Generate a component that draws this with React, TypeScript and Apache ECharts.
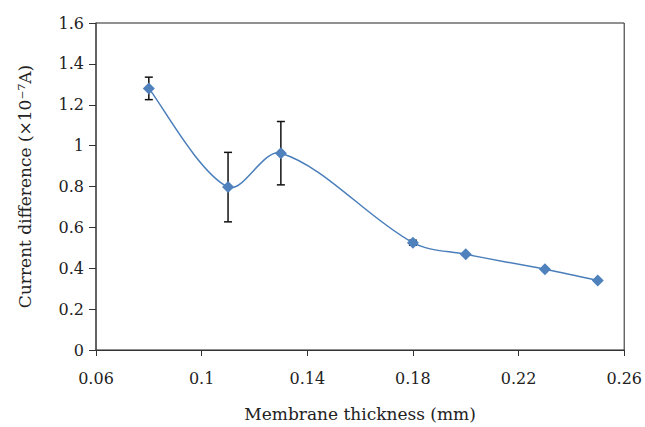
import React, { useEffect, useRef } from "react";
import * as echarts from "echarts";

const xValues = [0.08, 0.11, 0.13, 0.18, 0.2, 0.23, 0.25];
const yValues = [1.28, 0.797, 0.963, 0.525, 0.468, 0.395, 0.34];
const errValues = [0.055, 0.17, 0.155, 0.012, 0, 0, 0];
const xTicks = [0.06, 0.1, 0.14, 0.18, 0.22, 0.26];

const FONT = "DejaVu Serif";

export default function App() {
  const ref = useRef<HTMLDivElement>(null);
  useEffect(() => {
    if (!ref.current) return;
    const chart = echarts.init(ref.current, undefined, { renderer: "svg" });
    const points = xValues.map((x, i) => [x, yValues[i]]);
    const errData = xValues.map((x, i) => [x, yValues[i], errValues[i]]);
    chart.setOption({
      animation: false,
      backgroundColor: "#ffffff",
      grid: {
        left: 96,
        right: 20,
        top: 23,
        bottom: 75,
        show: true,
        borderColor: "#222",
        borderWidth: 1,
        backgroundColor: "transparent",
      },
      xAxis: {
        type: "value",
        min: 0.06,
        max: 0.26,
        name: "Membrane thickness (mm)",
        nameLocation: "middle",
        nameGap: 55,
        nameTextStyle: { fontFamily: FONT, fontSize: 17, color: "#222" },
        axisLine: { show: true, onZero: false, lineStyle: { color: "#333", width: 1 } },
        axisTick: { show: true, length: 6, customValues: xTicks, lineStyle: { color: "#333" } },
        axisLabel: {
          customValues: xTicks,
          margin: 20,
          fontFamily: FONT,
          fontSize: 16,
          color: "#222",
          formatter: (v: number) => String(parseFloat(v.toFixed(2))),
        },
        splitLine: { show: false },
      },
      yAxis: {
        type: "value",
        min: 0,
        max: 1.6,
        interval: 0.2,
        name: "Current difference (×10⁻⁷A)",
        nameLocation: "middle",
        nameGap: 63,
        nameTextStyle: { fontFamily: FONT, fontSize: 17, color: "#222" },
        axisLine: { show: true, lineStyle: { color: "#555", width: 1.5 } },
        axisTick: { show: true, length: 7, lineStyle: { color: "#333" } },
        axisLabel: {
          margin: 12,
          fontFamily: FONT,
          fontSize: 16,
          color: "#222",
          formatter: (v: number) => String(parseFloat(v.toFixed(1))),
        },
        splitLine: { show: false },
      },
      series: [
        {
          type: "custom",
          z: 1,
          data: errData,
          renderItem: (params: any, api: any) => {
            const x = api.value(0);
            const y = api.value(1);
            const e = api.value(2);
            if (!e) return { type: "group", children: [] };
            const top = api.coord([x, y + e]);
            const bot = api.coord([x, y - e]);
            const hw = 4;
            const st = { stroke: "#111", lineWidth: 1.5 };
            return {
              type: "group",
              children: [
                { type: "line", shape: { x1: top[0], y1: top[1], x2: bot[0], y2: bot[1] }, style: st },
                { type: "line", shape: { x1: top[0] - hw, y1: top[1], x2: top[0] + hw, y2: top[1] }, style: st },
                { type: "line", shape: { x1: bot[0] - hw, y1: bot[1], x2: bot[0] + hw, y2: bot[1] }, style: st },
              ],
            };
          },
        },
        {
          // smoothed curve (distance-weighted Catmull-Rom)
          type: "custom",
          z: 2,
          data: points,
          renderItem: (params: any, api: any) => {
            if (params.dataIndex !== 0) return { type: "group", children: [] };
            const P = points.map((p) => api.coord(p));
            const n = P.length;
            const dist = (a: number[], b: number[]) => Math.hypot(a[0] - b[0], a[1] - b[1]);
            const t = 1 / 6;
            const outCp: number[][] = [];
            const inCp: number[][] = [];
            for (let i = 0; i < n; i++) {
              const prev = P[Math.max(0, i - 1)];
              const next = P[Math.min(n - 1, i + 1)];
              const vx = next[0] - prev[0];
              const vy = next[1] - prev[1];
              const d0 = i > 0 ? dist(P[i], P[i - 1]) : 0;
              const d1 = i < n - 1 ? dist(P[i], P[i + 1]) : 0;
              let fo = 1;
              let fi = 1;
              if (i > 0 && i < n - 1) {
                fo = (2 * d1) / (d0 + d1);
                fi = (2 * d0) / (d0 + d1);
              }
              outCp[i] = [P[i][0] + vx * t * fo, P[i][1] + vy * t * fo];
              inCp[i] = [P[i][0] - vx * t * fi, P[i][1] - vy * t * fi];
            }
            const children: any[] = [];
            for (let i = 0; i < n - 1; i++) {
              children.push({
                type: "bezierCurve",
                shape: {
                  x1: P[i][0],
                  y1: P[i][1],
                  cpx1: outCp[i][0],
                  cpy1: outCp[i][1],
                  cpx2: inCp[i + 1][0],
                  cpy2: inCp[i + 1][1],
                  x2: P[i + 1][0],
                  y2: P[i + 1][1],
                },
                style: { stroke: "#4a7ebb", lineWidth: 1.5, fill: "none" },
              });
            }
            return { type: "group", children };
          },
        },
        {
          type: "line",
          z: 3,
          data: points,
          symbol: "diamond",
          symbolSize: 12,
          lineStyle: { width: 0, opacity: 0 },
          itemStyle: { color: "#4f81bd" },
        },
      ],
    });
    return () => chart.dispose();
  }, []);
  return (
    <div
      ref={ref}
      style={{ position: "absolute", left: 0, top: 0, width: 645, height: 427 }}
    />
  );
}
